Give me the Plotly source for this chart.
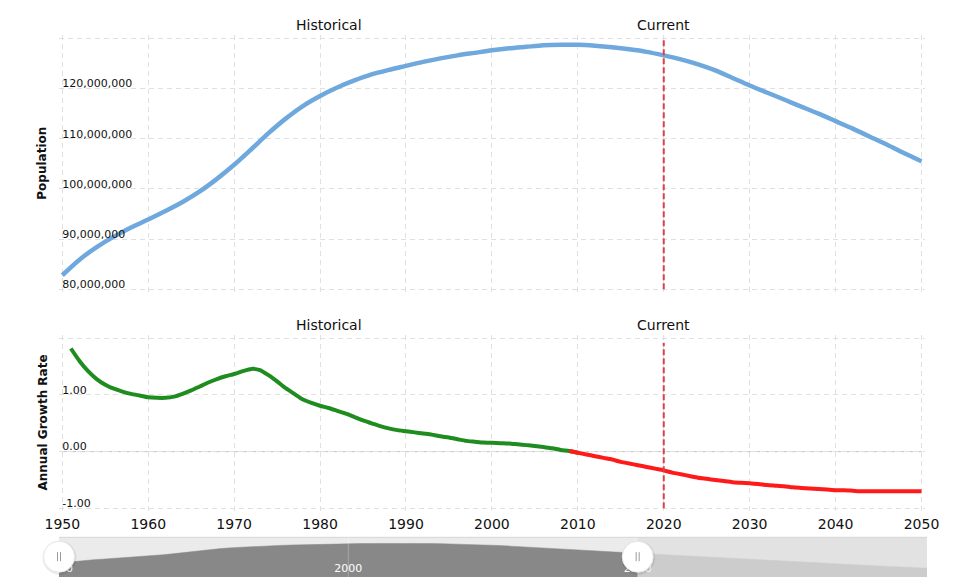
import plotly.graph_objects as go

# ---------------- data ----------------
pop_years = [1950, 1952, 1954, 1956, 1958, 1960, 1962, 1964, 1966, 1968,
             1970, 1972, 1974, 1976, 1978, 1980, 1982, 1984, 1986, 1988,
             1990, 1992, 1994, 1996, 1998, 2000, 2002, 2004, 2006, 2008,
             2010, 2012, 2014, 2016, 2018, 2020, 2022, 2024, 2026, 2028,
             2030, 2032, 2034, 2036, 2038, 2040, 2042, 2044, 2046, 2048, 2050]
pop_millions = [82.8, 85.9, 88.4, 90.5, 92.3, 93.9, 95.6, 97.4, 99.5, 102.0,
                104.8, 107.9, 111.1, 114.0, 116.5, 118.5, 120.2, 121.6, 122.8, 123.7,
                124.5, 125.3, 126.0, 126.6, 127.1, 127.6, 128.0, 128.3, 128.6, 128.7,
                128.7, 128.5, 128.2, 127.8, 127.3, 126.6, 125.8, 124.8, 123.6, 122.1,
                120.6, 119.2, 117.8, 116.4, 115.0, 113.5, 112.0, 110.4, 108.8, 107.1, 105.5]
population = [v * 1_000_000 for v in pop_millions]

# navigator continues beyond the main view
nav_ext_years = [2060, 2070, 2080, 2090, 2100]
nav_ext_millions = [98.0, 90.5, 83.5, 77.0, 71.0]

growth_years = list(range(1951, 2051))
growth_rate = [1.82, 1.60, 1.42, 1.28, 1.18, 1.11, 1.06, 1.02, 0.99, 0.96,   # 1951-1960
               0.95, 0.95, 0.97, 1.02, 1.08, 1.15, 1.22, 1.28, 1.33, 1.37,   # 1961-1970
               1.42, 1.46, 1.44, 1.35, 1.24, 1.12, 1.02, 0.92, 0.86, 0.81,   # 1971-1980
               0.77, 0.72, 0.67, 0.61, 0.55, 0.50, 0.45, 0.41, 0.38, 0.36,   # 1981-1990
               0.34, 0.32, 0.30, 0.27, 0.25, 0.22, 0.19, 0.175, 0.16, 0.155, # 1991-2000
               0.15, 0.145, 0.13, 0.115, 0.10, 0.08, 0.06, 0.03, 0.01, -0.02, # 2001-2010
               -0.05, -0.08, -0.11, -0.14, -0.18, -0.21, -0.24, -0.27, -0.30, -0.33,  # 2011-2020
               -0.37, -0.40, -0.43, -0.46, -0.48, -0.50, -0.52, -0.54, -0.55, -0.56,  # 2021-2030
               -0.57, -0.59, -0.60, -0.61, -0.63, -0.64, -0.65, -0.66, -0.67, -0.68,  # 2031-2040
               -0.68, -0.69, -0.70, -0.70, -0.70, -0.70, -0.70, -0.70, -0.70, -0.70]  # 2041-2050
hist_end_year = 2010
fcst_start_year = 2009
current_year = 2020

x_ticks = [1950, 1960, 1970, 1980, 1990, 2000, 2010, 2020, 2030, 2040, 2050]
pop_ticks = [80e6, 90e6, 100e6, 110e6, 120e6, 130e6]
pop_tick_text = ["80,000,000", "90,000,000", "100,000,000", "110,000,000", "120,000,000", ""]
rate_ticks = [-1, 0, 1, 2]
rate_tick_text = ["-1.00", "0.00", "1.00", ""]
nav_ticks = [1950, 2000, 2050]

# ---------------- layout helpers ----------------
OX, OY = 8, 8              # the page body margin places the figure at (8, 8)
W, H = 955 - OX, 588 - OY
L, R = 59 - OX, 28         # plot area spans page x 59..927
PW = W - L - R
FONT = "DejaVu Sans"
PAD = 3  # px of breathing room so edge gridlines are kept


def px_y(p):
    """page y pixel -> paper fraction"""
    return 1 - (p - OY) / H


def px_x(p):
    """page x pixel -> paper fraction"""
    return (p - OX - L) / PW


def padded(lo_val, hi_val, lo_px, hi_px):
    per_px = (hi_val - lo_val) / abs(hi_px - lo_px)
    return [lo_val - PAD * per_px, hi_val + PAD * per_px]


# main x: 1950 at 62.3px, 2050 at 921.5px (page coords)
x_range = padded(1950, 2050, 62.3, 921.5)
main_dom = [px_x(62.3 - PAD), px_x(921.5 + PAD)]
# population y: 80M at 289.3px, 130M at 38.3px
y1_range = padded(80e6, 130e6, 289.3, 38.3)
y1_dom = [px_y(289.3 + PAD), px_y(38.3 - PAD)]
# growth y: -1 at 508.3px, 2 at 338.3px
y2_range = padded(-1, 2, 508.3, 338.3)
y2_dom = [px_y(508.3 + PAD), px_y(338.3 - PAD)]

fig = go.Figure()

fig.add_trace(go.Scatter(x=pop_years, y=population, mode="lines",
                         line=dict(color="#6fa8dc", width=4.5, shape="spline", smoothing=0.8),
                         xaxis="x", yaxis="y", showlegend=False))

gh_x = [y for y in growth_years if y <= hist_end_year]
gh_y = [v for y, v in zip(growth_years, growth_rate) if y <= hist_end_year]
gf_x = [y for y in growth_years if y >= fcst_start_year]
gf_y = [v for y, v in zip(growth_years, growth_rate) if y >= fcst_start_year]
fig.add_trace(go.Scatter(x=gh_x, y=gh_y, mode="lines",
                         line=dict(color="#1e8c1e", width=4, shape="spline", smoothing=0.6),
                         xaxis="x2", yaxis="y2", showlegend=False))
fig.add_trace(go.Scatter(x=gf_x, y=gf_y, mode="lines",
                         line=dict(color="#ff1a1a", width=4, shape="spline", smoothing=0.6),
                         xaxis="x2", yaxis="y2", showlegend=False))

# navigator
nav_start, nav_end, sel_end = 1950, 2100, 2050
nav_years = pop_years + nav_ext_years
nav_vals = pop_millions + nav_ext_millions
sel_x = [y for y in nav_years if y <= sel_end]
sel_y = [v for y, v in zip(nav_years, nav_vals) if y <= sel_end]
out_x = [y for y in nav_years if y >= sel_end]
out_y = [v for y, v in zip(nav_years, nav_vals) if y >= sel_end]
fig.add_trace(go.Scatter(x=sel_x, y=sel_y, mode="lines", fill="tozeroy",
                         line=dict(color="#888888", width=0.5), fillcolor="#888888",
                         xaxis="x3", yaxis="y3", hoverinfo="skip", showlegend=False))
fig.add_trace(go.Scatter(x=out_x, y=out_y, mode="lines", fill="tozeroy",
                         line=dict(color="#cccccc", width=0.5), fillcolor="#cccccc",
                         xaxis="x3", yaxis="y3", hoverinfo="skip", showlegend=False))

grid = dict(showgrid=True, gridcolor="#e0e0e0", gridwidth=1, griddash="5px,4px",
            zeroline=False, showline=False, ticks="", automargin=False)

fig.update_layout(
    template="none",
    width=W, height=H,
    margin=dict(l=L, r=R, t=0, b=0, pad=0),
    paper_bgcolor="white", plot_bgcolor="white",
    font=dict(family=FONT, color="#111111"),
    showlegend=False,
    xaxis=dict(domain=main_dom, range=x_range, tickvals=x_ticks, showticklabels=False,
               anchor="y", **grid),
    yaxis=dict(domain=y1_dom, range=y1_range, tickvals=pop_ticks,
               ticktext=pop_tick_text, ticklabelposition="inside", ticklabelshift=-5,
               ticklabeloverflow="allow",
               tickfont=dict(size=11, color="#111111"), anchor="x", **grid),
    xaxis2=dict(domain=main_dom, range=x_range, tickvals=x_ticks,
                tickfont=dict(size=14, color="#111111"), ticklabelstandoff=3,
                anchor="y2", **grid),
    yaxis2=dict(domain=y2_dom, range=y2_range, tickvals=rate_ticks,
                ticktext=rate_tick_text, ticklabelposition="inside", ticklabelshift=-5,
                ticklabeloverflow="allow",
                tickfont=dict(size=11, color="#111111"), anchor="x2", **grid),
    xaxis3=dict(domain=[0, 1], range=[nav_start, nav_end], tickvals=nav_ticks,
                ticklabelposition="inside", tickfont=dict(size=11, color="white"),
                ticklabeloverflow="allow",
                showgrid=False, zeroline=False, showline=False, ticks="", anchor="y3",
                automargin=False),
    yaxis3=dict(domain=[px_y(577), px_y(537.3)], range=[50.4, 142.6],
                showgrid=False, zeroline=False, showline=False, showticklabels=False,
                ticks="", anchor="x3", automargin=False),
)

shapes = []
# zero line on growth chart
shapes.append(dict(type="line", xref="x2", yref="y2", x0=1950, x1=2050, y0=0, y1=0,
                   line=dict(color="#c4c4c4", width=1, dash="5px,4px"), layer="below"))
# current-year markers
shapes.append(dict(type="line", xref="x", yref="y", x0=current_year, x1=current_year,
                   y0=80e6, y1=130e6, line=dict(color="#d8414b", width=2, dash="6px,3px"),
                   layer="above"))
shapes.append(dict(type="line", xref="x2", yref="y2", x0=current_year, x1=current_year,
                   y0=-1, y1=1.92, line=dict(color="#d8414b", width=2, dash="6px,3px"),
                   layer="above"))
# navigator backgrounds
shapes.append(dict(type="rect", xref="x3", yref="y3 domain", x0=nav_start, x1=sel_end,
                   y0=0, y1=1, fillcolor="#ebebeb", line=dict(width=0), layer="below"))
shapes.append(dict(type="rect", xref="x3", yref="y3 domain", x0=sel_end, x1=nav_end,
                   y0=0, y1=1, fillcolor="#e2e2e2", line=dict(width=0), layer="below"))
shapes.append(dict(type="line", xref="x3 domain", yref="y3 domain", x0=0, x1=1, y0=1, y1=1,
                   line=dict(color="#d6d6d6", width=1), layer="above"))
shapes.append(dict(type="line", xref="x3", yref="y3 domain", x0=2000, x1=2000, y0=0, y1=1,
                   line=dict(color="rgba(255,255,255,0.25)", width=1), layer="above"))
# navigator handles (paper refs so they are not clipped)
hy = px_y(556.7)
for hyear in (nav_start, sel_end):
    hx = (hyear - nav_start) / (nav_end - nav_start)
    common = dict(xref="paper", yref="paper", xsizemode="pixel", ysizemode="pixel",
                  xanchor=hx, yanchor=hy, layer="above")
    shapes.append(dict(type="circle", x0=-16.5, x1=17.5, y0=-18, y1=16,
                       fillcolor="rgba(0,0,0,0.08)", line=dict(width=0), **common))
    shapes.append(dict(type="circle", x0=-15.5, x1=15.5, y0=-15.5, y1=15.5,
                       fillcolor="white", line=dict(color="#e8e8e8", width=1), **common))
    for dx in (-1.5, 1.5):
        shapes.append(dict(type="line", x0=dx, x1=dx, y0=-4.5, y1=4.5,
                           line=dict(color="#999999", width=1), **common))
fig.update_layout(shapes=shapes)

ann = []
for xr, yr, top in (("x", "y", 130e6), ("x2", "y2", 2)):
    for txt, xv in (("Historical", 1981), ("Current", current_year)):
        ann.append(dict(text=txt, x=xv, xref=xr, y=top, yref=yr, xanchor="center",
                        yanchor="bottom", yshift=3, showarrow=False,
                        font=dict(size=14, color="#111111")))
for txt, cy in (("<b>Population</b>", 163.7), ("<b>Annual Growth Rate</b>", 422.5)):
    ann.append(dict(text=txt, textangle=-90, x=px_x(42), xref="paper",
                    y=px_y(cy), yref="paper", xanchor="center", yanchor="middle",
                    showarrow=False, font=dict(size=12, color="#111111")))
fig.update_layout(annotations=ann)

fig.write_html("out.html")
